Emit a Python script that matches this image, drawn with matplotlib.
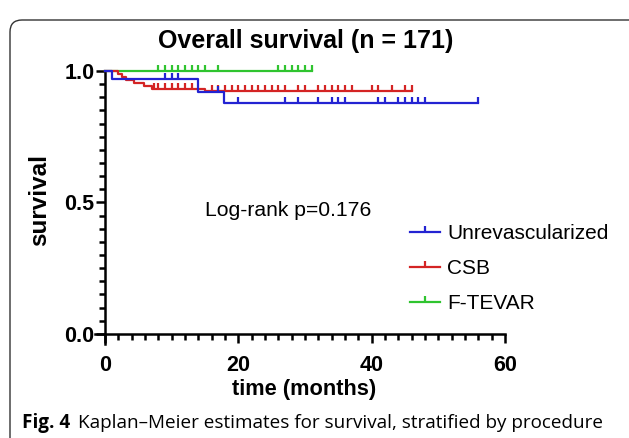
import numpy as np
import matplotlib
matplotlib.use("Agg")
import matplotlib.pyplot as plt
from matplotlib.path import Path
from matplotlib.patches import FancyBboxPatch
from matplotlib.lines import Line2D
from matplotlib.ticker import MultipleLocator

# Kaplan-Meier curves (time in months, survival)
unrev_t = [0, 1.0, 14.0, 17.8, 56.0]
unrev_s = [1.0, 0.970, 0.922, 0.878, 0.878]
unrev_cens = [9, 10, 11, 17, 20, 27, 29, 32, 34, 35, 36, 41, 42, 44, 45, 46, 47, 48, 56]

csb_t = [0, 2.0, 2.5, 3.2, 4.3, 5.9, 7.0, 15.0, 46.0]
csb_s = [1.0, 0.988, 0.977, 0.965, 0.954, 0.943, 0.932, 0.924, 0.924]
csb_cens = [7.3, 8, 9, 10, 11, 12, 13, 16, 17, 18, 19, 20, 21, 22, 23, 24, 25, 26, 27,
            29, 30, 32, 33, 34, 35, 36, 37, 40, 41, 43, 45, 46]

ftevar_t = [0, 31.0]
ftevar_s = [1.0, 1.0]
ftevar_cens = [8, 9, 10, 11, 12, 13, 14, 15, 17, 26, 27, 28, 29, 30, 31]

labels = ["Unrevascularized", "CSB", "F-TEVAR"]
colors = ["#2323d2", "#d42424", "#2fc42f"]

plt.rcParams['font.family'] = ['Liberation Sans', 'DejaVu Sans']

tick = Path([(0, 0), (0, 1)], [Path.MOVETO, Path.LINETO])

fig = plt.figure(figsize=(6.29, 4.38), dpi=100)
ax = fig.add_axes([95/629, 93.6/438, 410/629, 273.4/438])

def surv_at(t, s, x):
    i = np.searchsorted(t, x, side='right') - 1
    return np.array(s)[i]

curves = [(unrev_t, unrev_s, unrev_cens), (csb_t, csb_s, csb_cens),
          (ftevar_t, ftevar_s, ftevar_cens)]
# green first, blue last so blue sits on top
for k in [2, 1, 0]:
    t, s, c = curves[k]
    ax.step(t, s, where='post', color=colors[k], lw=1.6, clip_on=False, zorder=3 + (2 - k))
    cy = surv_at(np.array(t), s, np.array(c))
    ax.plot(c, cy, ls='none', marker=tick, markersize=8, markeredgewidth=1.6,
            color=colors[k], clip_on=False, zorder=3 + (2 - k))

ax.set_xlim(-1.5, 60)
ax.set_ylim(-0.04, 1.0)
ax.spines['left'].set_position(('data', 0))
ax.spines['bottom'].set_position(('data', 0))
ax.spines['right'].set_visible(False)
ax.spines['top'].set_visible(False)
for sp in ['left', 'bottom']:
    ax.spines[sp].set_linewidth(1.8)

ax.set_xticks([0, 20, 40, 60])
ax.set_yticks([0, 0.5, 1.0])
ax.set_yticklabels(["0.0", "0.5", "1.0"])
ax.xaxis.set_minor_locator(MultipleLocator(2))
ax.yaxis.set_minor_locator(MultipleLocator(0.05))
ax.tick_params(which='major', length=6.5, width=1.8, labelsize=15.5)
ax.tick_params(which='minor', length=4.5, width=1.8)
ax.tick_params(axis='x', which='major', pad=9)
ax.tick_params(axis='y', which='major', pad=1)
for lab in ax.get_xticklabels() + ax.get_yticklabels():
    lab.set_fontweight('bold')
ax.patch.set_visible(False)

fig.text(306/629, 1 - 41/438, "Overall survival (n = 171)", ha='center', va='center',
         fontsize=18, fontweight='bold')
fig.text(40/629, 1 - 200/438, "survival", rotation=90, ha='center', va='center',
         fontsize=17.5, fontweight='bold')
fig.text(304/629, 1 - 390/438, "time (months)", ha='center', va='center',
         fontsize=15.7, fontweight='bold')
fig.text(205/629, 1 - 211/438, "Log-rank p=0.176", ha='left', va='center', fontsize=15.2)

handles = [Line2D([], [], color=colors[k], lw=1.6, marker=tick, markersize=8,
                  markeredgewidth=1.6) for k in range(3)]
fig.legend(handles, labels, loc='upper left', bbox_to_anchor=(410/629, 1 - 224/438),
           frameon=False, fontsize=15, handlelength=1.45, handletextpad=0.35,
           labelspacing=0.77, borderpad=0, borderaxespad=0, numpoints=1)

# rounded frame and caption
box = FancyBboxPatch((10, -30), 660, 448, boxstyle="round,pad=0,rounding_size=12",
                     transform=None, fill=False, edgecolor='#333333', lw=1.0)
fig.add_artist(box)
fig.text(22/629, 1 - 428/438, "Fig. 4", family='Open Sans', fontweight='bold',
         fontsize=13.6, va='baseline', ha='left')
fig.text(78/629, 1 - 428/438, "Kaplan\u2013Meier estimates for survival, stratified by procedure",
         family='Open Sans', fontsize=13.6, va='baseline', ha='left')

fig.savefig("out.png", dpi=100)
